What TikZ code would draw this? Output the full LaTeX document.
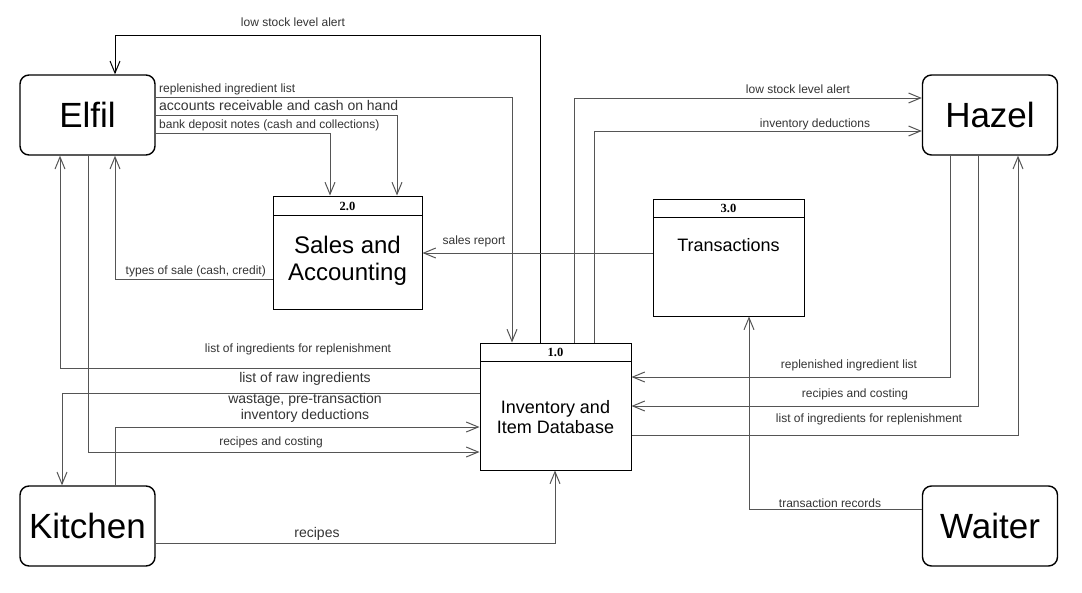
\documentclass[tikz,border=0pt]{standalone}
\usepackage{fontspec}
\setmainfont{Liberation Sans}
\newfontfamily\hdrfont{Liberation Serif}
\usetikzlibrary{arrows.meta}
\definecolor{lg}{HTML}{555555}
\definecolor{tx}{HTML}{333333}
\tikzset{
  x=1pt,y=-1pt,
  ent/.style={draw=black,line width=1.4pt,rounded corners=9pt,minimum width=135pt,minimum height=80pt,inner sep=0pt,font=\fontsize{35}{40}\selectfont},
  proc/.style={draw=black,line width=1pt,inner sep=0pt},
  hdr/.style={font=\hdrfont\bfseries\fontsize{12.5}{14}\selectfont,inner sep=0pt},
  flow/.style={draw=lg,line width=1pt},
  flowk/.style={draw=black,line width=0.9pt},
  tip/.style={-{Straight Barb[length=12pt,width=10pt,line width=1pt]}},
  sl/.style={text=tx,inner sep=0pt,font=\fontsize{12}{14}\selectfont},
  ml/.style={text=tx,inner sep=0pt,font=\fontsize{14}{16}\selectfont},
}
\begin{document}
\begin{tikzpicture}
\useasboundingbox (0,0) rectangle (1082,592);
% entities
\node[ent] (elfil) at (87.5,115) {Elfil};
\node[ent] (hazel) at (990,115) {Hazel};
\node[ent] (kitchen) at (87.5,526) {Kitchen};
\node[ent] (waiter) at (990,526) {Waiter};
% processes
\node[proc,minimum width=149pt,minimum height=113pt] (p2) at (347.5,252.5) {};
\draw[line width=1pt] (273,215) -- (422,215);
\node[hdr] (p2h) at (347.5,206) {2.0};
\node[inner sep=0pt,align=center,font=\fontsize{24}{27}\selectfont] (p2t) at (347.5,261) {Sales and\\Accounting};
\node[proc,minimum width=151pt,minimum height=117pt] (p3) at (728.5,257.5) {};
\draw[line width=1pt] (653,217) -- (804,217);
\node[hdr] (p3h) at (728.5,208) {3.0};
\node[inner sep=0pt,font=\fontsize{18}{20}\selectfont] (p3t) at (728.5,245) {Transactions};
\node[proc,minimum width=151pt,minimum height=127pt] (p1) at (555.5,406.5) {};
\draw[line width=1pt] (480,361) -- (631,361);
\node[hdr] (p1h) at (555.5,352.5) {1.0};
\node[inner sep=0pt,align=center,font=\fontsize{18}{20}\selectfont] (p1t) at (555.5,417) {Inventory and\\Item Database};
% bend coordinates
\coordinate (t1) at (540,35); \coordinate (t2) at (115,35);
\coordinate (r1) at (512,97);
\coordinate (a1) at (397,115);
\coordinate (b1) at (330,133);
\coordinate (s1) at (115,279);
\coordinate (sr) at (640,253);
\coordinate (l1) at (60,368);
\coordinate (l2) at (62,393);
\coordinate (rc) at (88,452);
\coordinate (w1) at (115,427);
\coordinate (rp) at (555,543);
\coordinate (h1) at (574,98);
\coordinate (h2) at (594,131);
\coordinate (h3) at (950,377);
\coordinate (h4) at (978,406);
\coordinate (h5) at (1018,435);
\coordinate (tr) at (749,509);
% connectors
\draw[flowk,tip] (p1.north -| t1) -- (t1) -- (t2) -- (elfil.north -| t2);
\draw[flow,tip] (elfil.east |- r1) -- (r1) -- (p1.north -| r1);
\draw[flow,tip] (elfil.east |- a1) -- (a1) -- (p2.north -| a1);
\draw[flow,tip] (elfil.east |- b1) -- (b1) -- (p2.north -| b1);
\draw[flow,tip] (p2.west |- s1) -- (s1) -- (elfil.south -| s1);
\draw[flow,tip] (p3.west |- sr) -- (p2.east |- sr);
\draw[flow,tip] (p1.west |- l1) -- (l1) -- (elfil.south -| l1);
\draw[flow,tip] (p1.west |- l2) -- (l2) -- (kitchen.north -| l2);
\draw[flow,tip] (elfil.south -| rc) -- (rc) -- (p1.west |- rc);
\draw[flow,tip] (kitchen.north -| w1) -- (w1) -- (p1.west |- w1);
\draw[flow,tip] (kitchen.east |- rp) -- (rp) -- (p1.south -| rp);
\draw[flow,tip] (p1.north -| h1) -- (h1) -- (hazel.west |- h1);
\draw[flow,tip] (p1.north -| h2) -- (h2) -- (hazel.west |- h2);
\draw[flow,tip] (hazel.south -| h3) -- (h3) -- (p1.east |- h3);
\draw[flow,tip] (hazel.south -| h4) -- (h4) -- (p1.east |- h4);
\draw[flow,tip] (p1.east |- h5) -- (h5) -- (hazel.south -| h5);
\draw[flow,tip] (waiter.west |- tr) -- (tr) -- (p3.south -| tr);
% labels
\node[sl] (L1) at (293,22) {low stock level alert};
\node[sl,anchor=west] (L2) at (159,89) {replenished ingredient list};
\node[ml,anchor=west] (L3) at (159,105) {accounts receivable and cash on hand};
\node[sl,anchor=west] (L4) at (159,125) {bank deposit notes (cash and collections)};
\node[sl,anchor=east] (L5) at (266,271) {types of sale (cash, credit)};
\node[sl] (L6) at (474,241) {sales report};
\node[sl] (L7) at (298,349) {list of ingredients for replenishment};
\node[ml] (L8) at (305,379) {list of raw ingredients};
\node[ml,align=center] (L9) at (305,408) {wastage, pre-transaction\\inventory deductions};
\node[sl] (L10) at (271,442) {recipes and costing};
\node[ml] (L11) at (317,534) {recipes};
\node[sl] (L12) at (798,89) {low stock level alert};
\node[sl] (L13) at (815,124) {inventory deductions};
\node[sl] (L14) at (849,365) {replenished ingredient list};
\node[sl] (L15) at (855,394) {recipies and costing};
\node[sl] (L16) at (869,419) {list of ingredients for replenishment};
\node[sl] (L17) at (830,503) {transaction records};
\end{tikzpicture}
\end{document}
